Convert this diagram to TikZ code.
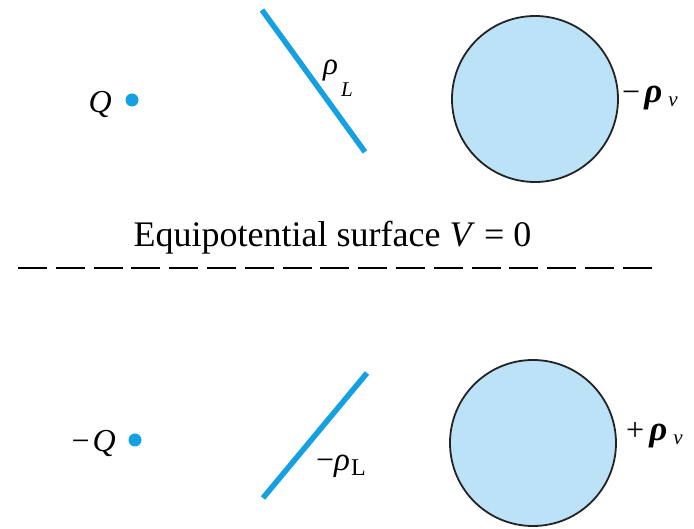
\documentclass[tikz,border=0pt]{standalone}
\usepackage{fontspec}
\setmainfont{Liberation Serif}
\usetikzlibrary{positioning}
\definecolor{chargeblue}{RGB}{20,160,225}
\definecolor{volfill}{RGB}{188,226,247}
\definecolor{rimgray}{RGB}{35,35,35}
\newcommand{\lowidx}[2]{\raisebox{-#1}{\fontsize{21}{22}\selectfont#2}}
\begin{document}
\begin{tikzpicture}[x=1pt,y=1pt,line cap=butt,
  font=\fontsize{32}{36}\selectfont,
  point/.style={circle,fill=chargeblue,inner sep=0pt,minimum size=13pt},
  linecharge/.style={draw=chargeblue,line width=5.5pt},
  volume/.style={circle,draw=rimgray,fill=volfill,line width=1.8pt,
    minimum size=166pt,inner sep=0pt},
  lbl/.style={inner sep=0pt},
  plane/.style={line width=2pt,dash pattern=on 29pt off 8.8pt}]
  \useasboundingbox (0,0) rectangle (694,528);
  % charges above the plane
  \node[point] (q1) at (132,428) {};
  \node[lbl,anchor=base east] (q1lab) at (112,415) {\textit{Q}};
  \coordinate (l1a) at (262,518);
  \coordinate (l1b) at (365,376);
  \draw[linecharge] (l1a) -- (l1b);
  \node[lbl,anchor=base west] (l1lab) at (323,453)
    {\fontsize{31}{32}\selectfont\textit{ρ}\hspace{3pt}\lowidx{22pt}{\textit{L}}};
  \node[lbl,anchor=base west] (v1lab) at (622,425)
    {−\hspace{4pt}\fontsize{35}{36}\selectfont\textbf{\textit{ρ}}\hspace{6pt}\lowidx{4pt}{\textit{v}}};
  \node[volume] (v1) at (535,429) {};
  % image plane
  \node[lbl,anchor=base,font=\fontsize{36}{40}\selectfont] (title) at (332.5,281)
    {Equipotential surface \textit{V} = 0};
  \coordinate (pa) at (18,260);
  \coordinate (pb) at (652,260);
  \draw[plane] (pa) -- (pb);
  % image charges below the plane
  \node[point] (q2) at (135,88) {};
  \node[lbl,anchor=base east] (q2lab) at (116,77) {−\hspace{3pt}\textit{Q}};
  \coordinate (l2a) at (263,30);
  \coordinate (l2b) at (367,155);
  \draw[linecharge] (l2a) -- (l2b);
  \node[lbl,anchor=base west] (l2lab) at (316,58)
    {−\fontsize{33}{34}\selectfont\textit{ρ}\hspace{1pt}\lowidx{5pt}{\fontsize{24}{24}\selectfont L}};
  \node[lbl,anchor=base west] (v2lab) at (626,88)
    {+\hspace{5pt}\fontsize{35}{36}\selectfont\textbf{\textit{ρ}}\hspace{6pt}\lowidx{4pt}{\textit{v}}};
  \node[volume] (v2) at (533,85) {};
\end{tikzpicture}
\end{document}
